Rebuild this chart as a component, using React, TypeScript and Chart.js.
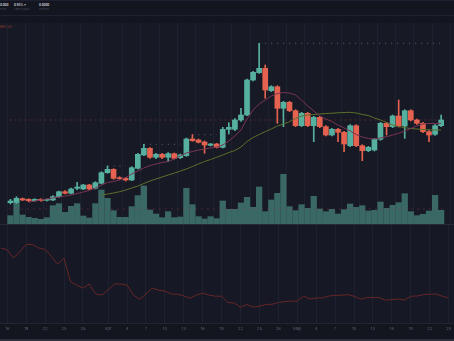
import React, { useEffect, useRef } from "react";
import { Chart, registerables } from "chart.js";
Chart.register(...registerables);

// ---- data ----
const openP = [0.373,0.377,0.413,0.407,0.393,0.407,0.397,0.400,0.433,0.483,0.467,0.517,0.510,0.550,0.517,0.567,0.673,0.707,0.623,0.617,0.600,0.717,0.850,0.917,0.827,0.857,0.827,0.863,0.823,0.843,1.010,1.000,0.980,0.947,0.960,0.927,1.107,1.107,1.200,1.250,1.600,1.673,1.717,1.493,1.533,1.317,1.377,1.293,1.143,1.267,1.143,1.227,1.133,1.050,1.107,1.077,0.943,1.143,0.943,0.893,0.900,1.007,1.167,1.133,1.240,1.140,1.293,1.200,1.167,1.083,1.057,1.143];
const closeP = [0.390,0.417,0.400,0.393,0.407,0.393,0.403,0.433,0.483,0.467,0.510,0.530,0.550,0.510,0.573,0.673,0.707,0.617,0.613,0.600,0.723,0.857,0.917,0.827,0.857,0.827,0.863,0.817,0.850,1.010,0.993,0.977,0.950,0.960,0.927,1.107,1.127,1.200,1.250,1.600,1.677,1.717,1.500,1.533,1.317,1.377,1.293,1.143,1.267,1.143,1.227,1.133,1.050,1.107,1.077,0.960,1.143,0.943,0.893,0.927,1.007,1.167,1.133,1.240,1.140,1.293,1.200,1.167,1.083,1.050,1.143,1.200];
const highP = [0.407,0.433,0.420,0.413,0.413,0.413,0.410,0.443,0.490,0.493,0.520,0.577,0.557,0.557,0.583,0.683,0.740,0.713,0.633,0.627,0.733,0.867,0.957,0.923,0.867,0.867,0.873,0.870,0.860,1.020,1.053,1.010,0.990,0.967,0.967,1.127,1.173,1.213,1.317,1.610,1.687,1.967,1.750,1.543,1.543,1.387,1.387,1.303,1.277,1.277,1.237,1.237,1.143,1.117,1.117,1.087,1.153,1.153,0.953,0.937,1.017,1.177,1.177,1.250,1.400,1.303,1.303,1.210,1.177,1.093,1.153,1.250];
const lowP = [0.360,0.367,0.393,0.383,0.387,0.387,0.390,0.393,0.427,0.460,0.460,0.503,0.503,0.503,0.510,0.560,0.667,0.607,0.607,0.590,0.593,0.710,0.843,0.817,0.813,0.813,0.783,0.810,0.813,0.837,0.987,0.970,0.867,0.940,0.920,0.920,1.060,1.093,1.187,1.243,1.590,1.667,1.417,1.483,1.167,1.133,1.283,1.133,1.133,1.133,0.983,1.123,1.040,1.040,0.983,0.883,0.933,0.933,0.793,0.883,0.890,0.997,1.050,1.123,1.130,1.017,1.190,1.157,1.073,0.983,1.047,1.133];
const volume = [50,138,54,40,34,28,38,110,122,70,106,122,48,36,122,204,154,80,40,40,104,170,228,84,60,38,74,38,42,214,116,44,30,44,32,138,88,88,126,160,100,222,74,144,184,298,104,80,116,94,166,90,74,88,60,86,120,100,110,78,82,132,94,112,128,182,74,50,58,78,172,82];
const maFast = [null,null,null,0.377,0.39,0.40,0.41,0.42,0.43,0.44,0.45,0.465,0.48,0.495,0.52,0.55,0.575,0.585,0.60,0.625,0.66,0.69,0.72,0.745,0.76,0.775,0.785,0.81,0.84,0.87,0.885,0.90,0.91,0.92,0.93,0.95,0.99,1.04,1.10,1.21,1.30,1.36,1.40,1.44,1.465,1.475,1.47,1.45,1.40,1.34,1.29,1.24,1.21,1.185,1.15,1.12,1.09,1.055,1.03,1.015,1.01,1.02,1.033,1.05,1.067,1.09,1.115,1.14,1.16,1.165,1.165,1.167];
const maSlow = [null,null,null,null,null,null,null,null,null,null,null,null,null,null,null,0.447,0.46,0.47,0.483,0.50,0.52,0.54,0.565,0.59,0.61,0.63,0.65,0.668,0.69,0.71,0.735,0.76,0.785,0.805,0.827,0.85,0.875,0.895,0.93,0.985,1.025,1.055,1.083,1.11,1.14,1.16,1.183,1.215,1.24,1.25,1.255,1.26,1.265,1.268,1.272,1.275,1.277,1.27,1.255,1.245,1.22,1.20,1.175,1.15,1.135,1.123,1.115,1.11,1.105,1.102,1.10,1.10];
const indicator = [41.0,40.0,36.0,39.2,42.9,42.7,41.0,40.3,36.7,32.9,35.9,24.2,22.5,20.9,23.0,18.0,17.5,20.0,23.0,23.0,22.4,17.5,15.4,18.0,20.9,19.9,19.5,18.0,17.9,17.0,15.9,17.5,18.4,17.5,16.9,16.9,13.8,13.5,11.4,12.7,11.5,11.9,12.7,12.9,13.7,14.2,14.4,14.5,16.9,15.5,16.0,16.0,17.0,17.3,17.4,17.7,16.9,15.4,16.2,16.2,16.2,14.9,15.2,15.5,15.0,16.9,17.0,17.7,17.9,18.0,16.9,16.0];
const tickIdx = [1,4,7,10,13,17,20,23,26,29,32,35,38,41,44,47,50,53,56,59,62,65,68,71];
const tickLabels = ["16","19","22","25","28","Apr","4","7","10","13","16","19","22","25","28","May","4","7","10","13","16","19","22","25"];
const resistanceFrom = [16, 22, 30, 41];
const resistanceTo = [19, 28, 34, 71.6];
const volAvgLevel = 90;

const X_MIN = -0.16;
const X_MAX = 71.56;
const UP = "#56b09f";
const DOWN = "#e4624f";
const GRID = "#1d2130";

const xScale = (showTicks: boolean) => ({
  type: "linear" as const,
  min: X_MIN,
  max: X_MAX,
  afterBuildTicks: (s: any) => {
    s.ticks = tickIdx.map((v) => ({ value: v }));
  },
  afterFit: (s: any) => {
    s.height = showTicks ? 18 : 0;
  },
  ticks: {
    display: showTicks,
    autoSkip: false,
    maxRotation: 0,
    padding: 3,
    color: "#5f626d",
    font: { size: 4, family: "Inter" },
    callback: (v: any) => {
      const k = tickIdx.indexOf(v);
      return k >= 0 ? tickLabels[k] : "";
    },
  },
  grid: { color: GRID, lineWidth: 1, drawTicks: false },
  border: { display: showTicks, color: "#23262f" },
});

function MainPane() {
  const ref = useRef<HTMLCanvasElement>(null);
  useEffect(() => {
    const n = closeP.length;
    const colors = closeP.map((c, i) => (c >= openP[i] ? UP : DOWN));
    const lastClose = closeP[n - 1];
    const resistance = resistanceFrom.map((f, k) => ({
      type: "line" as const,
      data: [
        { x: f, y: highP[f] },
        { x: resistanceTo[k], y: highP[f] },
      ],
      borderColor: "rgba(120,124,136,0.75)",
      borderWidth: 1,
      borderDash: [1, 5],
      pointRadius: 0,
      yAxisID: "y",
      order: 3,
    }));
    const chart = new Chart(ref.current!, {
      type: "bar",
      data: {
        datasets: [
          {
            type: "bar",
            data: volume.map((v, i) => ({ x: i, y: v })),
            backgroundColor: "#3a6865",
            barThickness: 5.6,
            grouped: false,
            yAxisID: "yVol",
            order: 10,
          } as any,
          {
            type: "line",
            data: [
              { x: X_MIN, y: volAvgLevel },
              { x: X_MAX, y: volAvgLevel },
            ],
            borderColor: "rgba(150,60,60,0.8)",
            borderWidth: 1,
            borderDash: [1, 5],
            pointRadius: 0,
            yAxisID: "yVol",
            order: 9,
          },
          {
            type: "line",
            data: [
              { x: X_MIN, y: lastClose },
              { x: X_MAX, y: lastClose },
            ],
            borderColor: "rgba(150,60,55,0.45)",
            borderWidth: 1,
            borderDash: [2, 3],
            pointRadius: 0,
            yAxisID: "y",
            order: 8,
          },
          ...resistance,
          {
            type: "bar",
            data: highP.map((h, i) => ({ x: i, y: [lowP[i], h] })),
            backgroundColor: colors,
            barThickness: 1,
            grouped: false,
            yAxisID: "y",
            order: 2,
          } as any,
          {
            type: "bar",
            data: openP.map((o, i) => ({ x: i, y: [o, closeP[i]] })),
            backgroundColor: colors,
            barThickness: 5,
            minBarLength: 1,
            grouped: false,
            yAxisID: "y",
            order: 1,
          } as any,
          {
            type: "line",
            data: maFast.map((v, i) => ({ x: i, y: v })),
            borderColor: "#7a3453",
            borderWidth: 1,
            pointRadius: 0,
            yAxisID: "y",
            order: 0,
          },
          {
            type: "line",
            data: maSlow.map((v, i) => ({ x: i, y: v })),
            borderColor: "#5f6e2c",
            borderWidth: 1,
            pointRadius: 0,
            yAxisID: "y",
            order: 0,
          },
        ] as any,
      },
      options: {
        animation: false,
        responsive: false,
        events: [],
        layout: { padding: 0 },
        plugins: { legend: { display: false }, tooltip: { enabled: false } },
        scales: {
          x: xScale(false) as any,
          y: { display: false, min: 0.16, max: 2.17 },
          yVol: { display: false, min: 0, max: 1206 },
        },
      },
    });
    return () => chart.destroy();
  }, []);
  return (
    <canvas
      ref={ref}
      width={454}
      height={201}
      style={{ position: "absolute", left: 0, top: 23, width: 454, height: 201 }}
    />
  );
}

function LowerPane() {
  const ref = useRef<HTMLCanvasElement>(null);
  useEffect(() => {
    const chart = new Chart(ref.current!, {
      type: "line",
      data: {
        datasets: [
          {
            data: indicator.map((v, i) => ({ x: i, y: v })),
            borderColor: "#672626",
            borderWidth: 1,
            pointRadius: 0,
          },
        ],
      },
      options: {
        animation: false,
        responsive: false,
        events: [],
        layout: { padding: 0 },
        plugins: { legend: { display: false }, tooltip: { enabled: false } },
        scales: {
          x: xScale(true) as any,
          y: { display: false, min: 3.5, max: 52.5 },
        },
      },
    });
    return () => chart.destroy();
  }, []);
  return (
    <canvas
      ref={ref}
      width={454}
      height={116}
      style={{ position: "absolute", left: 0, top: 225, width: 454, height: 116 }}
    />
  );
}

const small = { position: "absolute" as const, fontFamily: "Inter, sans-serif", whiteSpace: "nowrap" as const, lineHeight: 1 };

export default function App() {
  return (
    <div
      style={{
        position: "fixed",
        left: 0,
        top: 0,
        width: 454,
        height: 341,
        overflow: "hidden",
        background: "#13161f",
      }}
    >
      <div style={{ position: "absolute", left: 0, top: 0, width: 454, height: 1, background: "#1d2030" }} />
      <div style={{ position: "absolute", left: 0, top: 15, width: 454, height: 1, background: "#1f2230" }} />
      <div style={{ position: "absolute", left: 0, top: 23, width: 454, height: 201, background: "#171a25" }} />
      <div style={{ ...small, left: 0, top: 4, fontSize: 2.8, fontWeight: 700, color: "#d1d4dc" }}>0.000</div>
      <div style={{ ...small, left: 0, top: 9, fontSize: 2.5, color: "#4a4e5b" }}>Price</div>
      <div style={{ ...small, left: 14, top: 4, fontSize: 2.8, fontWeight: 700, color: "#d1d4dc" }}>0.95% ↗</div>
      <div style={{ ...small, left: 14, top: 9, fontSize: 2.5, color: "#4a4e5b" }}>Latest Supply</div>
      <div style={{ ...small, left: 39, top: 4, fontSize: 2.8, fontWeight: 700, color: "#d1d4dc" }}>0.0000</div>
      <div style={{ ...small, left: 39, top: 9, fontSize: 2.5, color: "#4a4e5b" }}>Platform</div>
      <div style={{ ...small, left: 0, top: 26, fontSize: 3, color: "#a8403a" }}>MA 0.41</div>
      <MainPane />
      <div style={{ position: "absolute", left: 0, top: 224, width: 454, height: 1, background: "#262a36" }} />
      <div style={{ position: "absolute", left: 0, top: 225, width: 454, height: 98, background: "#161925" }} />
      <LowerPane />
      <div style={{ position: "absolute", left: 0, top: 339, width: 454, height: 2, background: "#2c2f3a" }} />
    </div>
  );
}
